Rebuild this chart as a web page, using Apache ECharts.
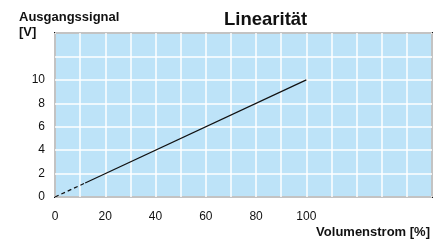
<!DOCTYPE html>
<html><head><meta charset="utf-8">
<script src="https://cdn.jsdelivr.net/npm/echarts@6/dist/echarts.min.js"></script>
<style>html,body{margin:0;padding:0;background:#fff}#c{width:446px;height:241px}</style>
</head><body><div id="c"></div>
<script>
const titleText = 'Linearität';
const yName = ['Ausgangssignal', '[V]'];
const xName = 'Volumenstrom [%]';
const xLabels = [0, 20, 40, 60, 80, 100];
const yLabels = [0, 2, 4, 6, 8, 10];
const dashedX = [0, 12];
const dashedY = [0, 1.2];
const solidX = [12, 100];
const solidY = [1.2, 10];

const font = 'Liberation Sans, Arial, Helvetica, sans-serif';
const chart = echarts.init(document.getElementById('c'), null, {renderer: 'canvas'});
chart.setOption({
  animation: false,
  grid: {left: 55, top: 33, right: 14, bottom: 44, show: true, backgroundColor: '#bde3f8', borderColor: '#111', borderWidth: 2},
  xAxis: {type: 'value', min: 0, max: 150, interval: 10,
    axisLine: {show: false}, axisTick: {show: false},
    splitLine: {show: true, lineStyle: {color: '#fff', width: 1.5}},
    axisLabel: {margin: 14, color: '#111', fontFamily: font, fontSize: 12,
      formatter: v => xLabels.includes(v) ? String(v) : ''}},
  yAxis: {type: 'value', min: 0, max: 14, interval: 2,
    axisLine: {show: false}, axisTick: {show: false},
    splitLine: {show: true, lineStyle: {color: '#fff', width: 1.5}},
    axisLabel: {margin: 10, color: '#111', fontFamily: font, fontSize: 12,
      formatter: v => yLabels.includes(v) ? String(v) : ''}},
  graphic: [
    {type: 'text', left: 224, top: 10, style: {text: titleText, font: 'bold 18.5px ' + font, fill: '#111'}},
    {type: 'text', left: 19, top: 11, style: {text: yName[0], font: 'bold 13px ' + font, fill: '#111'}},
    {type: 'text', left: 19, top: 26, style: {text: yName[1], font: 'bold 13px ' + font, fill: '#111'}},
    {type: 'text', right: 16, top: 226, style: {text: xName, font: 'bold 13px ' + font, fill: '#111'}}
  ],
  series: [
    {type: 'line', data: dashedX.map((x, i) => [x, dashedY[i]]), symbol: 'none',
      lineStyle: {color: '#111', width: 1.2, type: [4, 3]}},
    {type: 'line', data: solidX.map((x, i) => [x, solidY[i]]), symbol: 'none',
      lineStyle: {color: '#111', width: 1.2}}
  ]
});
</script></body></html>
